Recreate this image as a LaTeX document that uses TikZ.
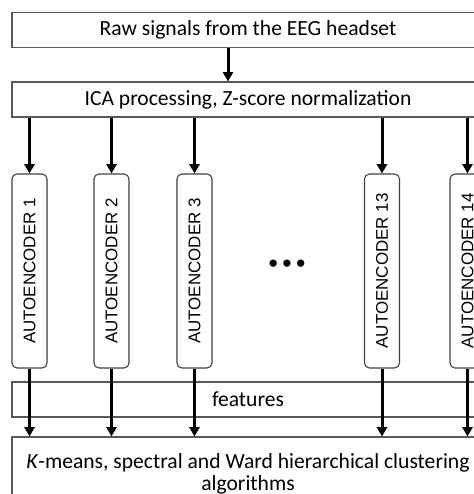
\documentclass[tikz,border=0pt]{standalone}
\usepackage{fontspec}
\setmainfont{Carlito}
\newfontfamily\aefont{Liberation Sans}
\usetikzlibrary{arrows.meta}

\begin{document}
\begin{tikzpicture}[x=0.75pt, y=-0.75pt,
  wide/.style={draw=black!65, line width=0.8pt, fill=white, minimum width=354pt, minimum height=26.25pt, inner sep=0pt, font=\fontsize{16.2}{17}\selectfont},
  enc/.style={draw=black!75, line width=0.8pt, rounded corners=3.75pt, minimum width=26.25pt, minimum height=145.5pt, inner sep=0pt, font=\aefont\fontsize{12.7}{15}\selectfont},
  flow/.style={line width=2.25pt, -{Triangle[length=7pt, width=7.5pt]}}]
\useasboundingbox (0,0) rectangle (474,494);
\node[wide] (raw) at (248,30) {Raw signals from the EEG headset};
\node[wide] (ica) at (248,99.5) {ICA processing, Z-score normalization};
\node[wide] (feat) at (248,399.5) {features};
\node[wide, minimum height=55.5pt, align=center] (clus) at (248,474) {\textit{K}-means, spectral and Ward hierarchical clustering\\algorithms};
\node[enc] (ae1) at (29.5,271) {\rotatebox{90}{AUTOENCODER 1}};
\node[enc] (ae2) at (111.5,271) {\rotatebox{90}{AUTOENCODER 2}};
\node[enc] (ae3) at (194.5,271) {\rotatebox{90}{AUTOENCODER 3}};
\node[enc] (ae13) at (382,271) {\rotatebox{90}{AUTOENCODER 13}};
\node[enc] (ae14) at (467.5,271) {\rotatebox{90}{AUTOENCODER 14}};
\node[font=\aefont\fontsize{20}{20}\selectfont] (dots) at (287,266) {\textbullet\,\textbullet\,\textbullet};
\draw[flow] ([xshift=-15pt]raw.south) -- ([xshift=-15pt]ica.north);
\foreach \n in {ae1, ae2, ae3, ae13, ae14} {
  \draw[flow] (ica.south -| \n.north) -- (\n.north);
  \draw[flow] (\n.south) -- (\n.south |- clus.north);
}
\end{tikzpicture}
\end{document}
